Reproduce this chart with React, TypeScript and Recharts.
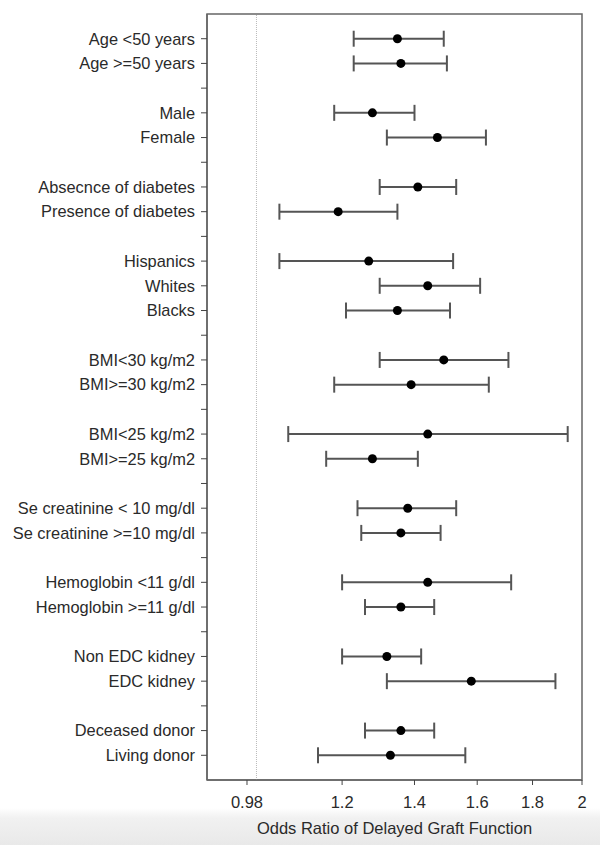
import React from 'react';
import {
  ScatterChart,
  Scatter,
  XAxis,
  YAxis,
  ErrorBar,
  ReferenceLine,
  ReferenceArea,
} from 'recharts';

// rows top to bottom, '' = spacer row between groups
const LABELS = [
  'Age <50 years', 'Age >=50 years', '',
  'Male', 'Female', '',
  'Absecnce of diabetes', 'Presence of diabetes', '',
  'Hispanics', 'Whites', 'Blacks', '',
  'BMI<30 kg/m2', 'BMI>=30 kg/m2', '',
  'BMI<25 kg/m2', 'BMI>=25 kg/m2', '',
  'Se creatinine < 10 mg/dl', 'Se creatinine >=10 mg/dl', '',
  'Hemoglobin <11 g/dl', 'Hemoglobin >=11 g/dl', '',
  'Non EDC kidney', 'EDC kidney', '',
  'Deceased donor', 'Living donor',
];

const ODDS = [
  1.35, 1.36, null,
  1.28, 1.47, null,
  1.41, 1.19, null,
  1.27, 1.44, 1.35, null,
  1.49, 1.39, null,
  1.44, 1.28, null,
  1.38, 1.36, null,
  1.44, 1.36, null,
  1.32, 1.58, null,
  1.36, 1.33,
];

const CI_LOW = [
  1.23, 1.23, null,
  1.18, 1.32, null,
  1.30, 1.05, null,
  1.05, 1.30, 1.21, null,
  1.30, 1.18, null,
  1.07, 1.16, null,
  1.24, 1.25, null,
  1.20, 1.26, null,
  1.20, 1.32, null,
  1.26, 1.14,
];

const CI_HIGH = [
  1.49, 1.50, null,
  1.40, 1.63, null,
  1.53, 1.35, null,
  1.52, 1.61, 1.51, null,
  1.71, 1.64, null,
  1.94, 1.41, null,
  1.53, 1.48, null,
  1.72, 1.46, null,
  1.42, 1.89, null,
  1.46, 1.56,
];

const X_TICKS = [0.98, 1.2, 1.4, 1.6, 1.8, 2];

const data = LABELS.map((label, i) => ({
  label,
  row: i,
  or: ODDS[i],
  err: ODDS[i] == null ? [0, 0] : [ODDS[i]! - CI_LOW[i]!, CI_HIGH[i]! - ODDS[i]!],
})).filter(d => d.or != null);

const rowTicks = LABELS.map((_, i) => i);

const FONT = 'Arial, "Liberation Sans", sans-serif';
const TEXT = '#2a2a2a';
const FRAME = '#666';

const Dot = (props: any) => <circle cx={props.cx} cy={props.cy} r={4.5} fill="#000" />;

export default function App() {
  return (
    <div
      style={{
        position: 'absolute',
        left: 0,
        top: 0,
        width: 600,
        height: 845,
        background: 'linear-gradient(to bottom, #fff 0px, #fff 808px, #f1f1f1 818px, #e9e9e9 845px)',
        fontFamily: FONT,
      }}
    >
      <ScatterChart width={600} height={845} margin={{ top: 14, right: 18, bottom: 5, left: 0 }}>
        <ReferenceArea
          x1={0.9}
          x2={2}
          y1={-1}
          y2={30}
          fill="none"
          stroke={FRAME}
          strokeWidth={1.5}
          ifOverflow="visible"
        />
        <XAxis
          type="number"
          dataKey="or"
          scale="log"
          domain={[0.9, 2]}
          ticks={X_TICKS}
          allowDataOverflow
          height={60}
          tickSize={5}
          tickMargin={11}
          axisLine={{ stroke: FRAME, strokeWidth: 1.5 }}
          tickLine={{ stroke: '#444' }}
          tick={{ fill: TEXT, fontSize: 16.5, fontFamily: FONT }}
          label={{
            value: 'Odds Ratio of Delayed Graft Function',
            position: 'insideBottom',
            offset: 6,
            fill: TEXT,
            fontSize: 16.5,
            fontFamily: FONT,
          }}
        />
        <YAxis
          type="number"
          dataKey="row"
          domain={[-1, 30]}
          reversed
          ticks={rowTicks}
          interval={0}
          width={207}
          tickSize={6}
          tickMargin={6}
          tickFormatter={(v: number) => LABELS[v] ?? ''}
          axisLine={{ stroke: FRAME, strokeWidth: 1.5 }}
          tickLine={{ stroke: '#444' }}
          tick={{ fill: TEXT, fontSize: 16.4, fontFamily: FONT }}
        />
        <ReferenceLine x={1} stroke="#bbb" strokeWidth={1} strokeDasharray="1 1" />
        <Scatter data={data} shape={<Dot />} isAnimationActive={false}>
          <ErrorBar dataKey="err" direction="x" width={8} stroke="#555" strokeWidth={2} />
        </Scatter>
      </ScatterChart>
    </div>
  );
}
